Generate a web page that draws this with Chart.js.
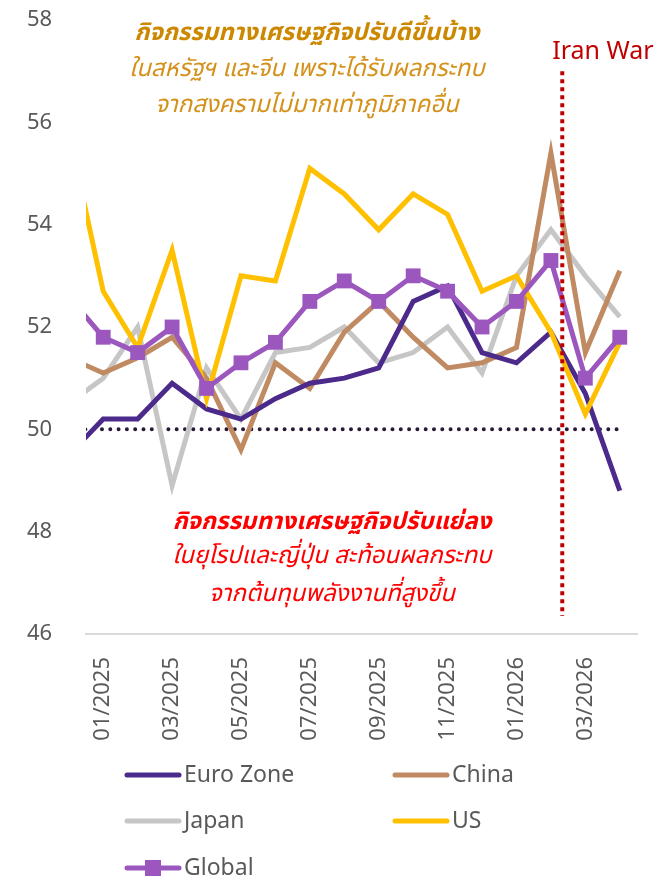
<!DOCTYPE html>
<html><head><meta charset="utf-8">
<script src="https://cdn.jsdelivr.net/npm/chart.js@4.4.1/dist/chart.umd.min.js"></script>
<style>html,body{margin:0;padding:0;background:#fff}#wrap{width:658px;height:878px;position:relative}</style>
</head><body><div id="wrap"><canvas id="c"></canvas></div>
<script>
const categories = ['12/2024','01/2025','02/2025','03/2025','04/2025','05/2025','06/2025','07/2025','08/2025','09/2025','10/2025','11/2025','12/2025','01/2026','02/2026','03/2026','04/2026'];
const euroZone = [49.5,50.2,50.2,50.9,50.4,50.2,50.6,50.9,51.0,51.2,52.5,52.8,51.5,51.3,51.9,50.7,48.8];
const china    = [51.4,51.1,51.4,51.8,51.0,49.6,51.3,50.8,51.9,52.5,51.8,51.2,51.3,51.6,55.4,51.5,53.1];
const japan    = [50.5,51.0,52.0,48.9,51.2,50.2,51.5,51.6,52.0,51.3,51.5,52.0,51.1,53.0,53.9,53.0,52.2];
const us       = [55.8,52.7,51.6,53.5,50.6,53.0,52.9,55.1,54.6,53.9,54.6,54.2,52.7,53.0,51.9,50.3,51.7];
const globalPmi= [52.6,51.8,51.5,52.0,50.8,51.3,51.7,52.5,52.9,52.5,53.0,52.7,52.0,52.5,53.3,51.0,51.8];
const threshold= [50,50,50,50,50,50,50,50,50,50,50,50,50,50,50,50,50];
const yTicks = [46,48,50,52,54,56,58];
const warIndex = 14.33;          // between 02/2026 and 03/2026
const warLineRange = [57.0, 46.35];
const warLabel = 'Iran War';
const noteTop = ['กิจกรรมทางเศรษฐกิจปรับดีขึ้นบ้าง','ในสหรัฐฯ และจีน เพราะได้รับผลกระทบ','จากสงครามไม่มากเท่าภูมิภาคอื่น'];
const noteBottom = ['กิจกรรมทางเศรษฐกิจปรับแย่ลง','ในยุโรปและญี่ปุ่น สะท้อนผลกระทบ','จากต้นทุนพลังงานที่สูงขึ้น'];

const FONT = "'Noto Sans', 'DejaVu Sans', sans-serif";
const THAI = "'Noto Sans Thai', 'Noto Sans', 'DejaVu Sans', sans-serif";

const datasets = [
  {label:'Euro Zone', data:euroZone, borderColor:'#4B2A8C', order:2},
  {label:'China', data:china, borderColor:'#C08B62', order:3},
  {label:'Japan', data:japan, borderColor:'#C6C6C6', order:4},
  {label:'US', data:us, borderColor:'#FFC000', order:1},
  {label:'Global', data:globalPmi, borderColor:'#9B57BE', backgroundColor:'#9B57BE', order:0, pointRadius:10.5, pointStyle:'rect', pointBorderWidth:0},
  {label:'_ref', data:threshold, borderColor:'#2A1838', borderWidth:4, borderDash:[0,8.3], borderCapStyle:'round', order:5}
].map(d => Object.assign({borderWidth:5, pointRadius:0, tension:0, fill:false, borderJoinStyle:'miter'}, d));

const overlay = {
  id:'overlay',
  afterDatasetsDraw(chart){
    const {ctx} = chart, x = chart.scales.x, y = chart.scales.y;
    const px = x.getPixelForValue(warIndex);
    ctx.save();
    ctx.strokeStyle = '#C00000'; ctx.lineWidth = 4; ctx.setLineDash([4,4]);
    ctx.beginPath(); ctx.moveTo(px, y.getPixelForValue(warLineRange[0])); ctx.lineTo(px, y.getPixelForValue(warLineRange[1])); ctx.stroke();
    ctx.setLineDash([]);
    ctx.fillStyle = '#C00000'; ctx.font = "25px " + FONT; ctx.textAlign='left'; ctx.textBaseline='alphabetic';
    ctx.fillText(warLabel, px - 10, 59);
    // notes
    ctx.textAlign = 'center'; ctx.textBaseline = 'middle';
    const topY = [35, 71, 107], botY = [524, 558, 596];
    noteTop.forEach((t,i)=>{ ctx.fillStyle = i===0 ? '#CC8800' : '#D4921C'; ctx.font = (i===0?'italic bold ':'italic ') + '24px ' + THAI; ctx.fillText(t, 307, topY[i]); });
    noteBottom.forEach((t,i)=>{ ctx.fillStyle = '#FF0000'; ctx.font = (i===0?'italic bold ':'italic ') + '24px ' + THAI; ctx.fillText(t, 332, botY[i]); });
    ctx.restore();
  },
  afterDraw(chart){
    const {ctx} = chart;
    const items = chart.data.datasets.filter(d => d.label[0] !== '_');
    const pos = [[125,775],[393,775],[125,821],[393,821],[125,868]];
    ctx.save();
    items.forEach((d,i)=>{
      const [lx,ly] = pos[i];
      ctx.strokeStyle = d.borderColor; ctx.lineWidth = 5; ctx.lineCap='round';
      ctx.beginPath(); ctx.moveTo(lx+2, ly); ctx.lineTo(lx+54, ly); ctx.stroke();
      if (d.pointStyle === 'rect') { ctx.fillStyle = d.backgroundColor; ctx.fillRect(lx+28-8, ly-8, 16, 16); }
      ctx.fillStyle = '#595959'; ctx.font = '23px ' + FONT; ctx.textAlign='left'; ctx.textBaseline='middle';
      ctx.fillText(d.label, lx+59, ly);
    });
    ctx.restore();
  }
};

new Chart(document.getElementById('c'), {
  type:'line',
  data:{labels:categories, datasets},
  options:{
    responsive:true, maintainAspectRatio:false, animation:false,
    layout:{padding:{top:20, right:21, left:27, bottom:0}},
    plugins:{legend:{display:false}, tooltip:{enabled:false}},
    scales:{
      x:{
        type:'category', min:'01/2025', max:'04/2026', offset:true,
        grid:{display:true, color:'rgba(0,0,0,0)', drawTicks:true, tickLength:23, offset:true},
        border:{display:true, color:'#D9D9D9', width:2},
        ticks:{autoSkip:false, maxRotation:90, minRotation:90, padding:0, color:'#595959', font:{family:FONT, size:22},
          callback(v){ return v % 2 === 1 ? categories[v] : ''; }},
        afterFit(s){ s.height = 244; }
      },
      y:{
        min:yTicks[0], max:yTicks[yTicks.length-1],
        grid:{display:false, drawTicks:false}, border:{display:false},
        afterBuildTicks(s){ s.ticks = yTicks.map(v=>({value:v})); },
        ticks:{padding:0, crossAlign:'far', color:'#595959', font:{family:FONT, size:22}},
        afterFit(s){ s.width = 59; }
      }
    }
  },
  plugins:[overlay]
});
</script></body></html>
